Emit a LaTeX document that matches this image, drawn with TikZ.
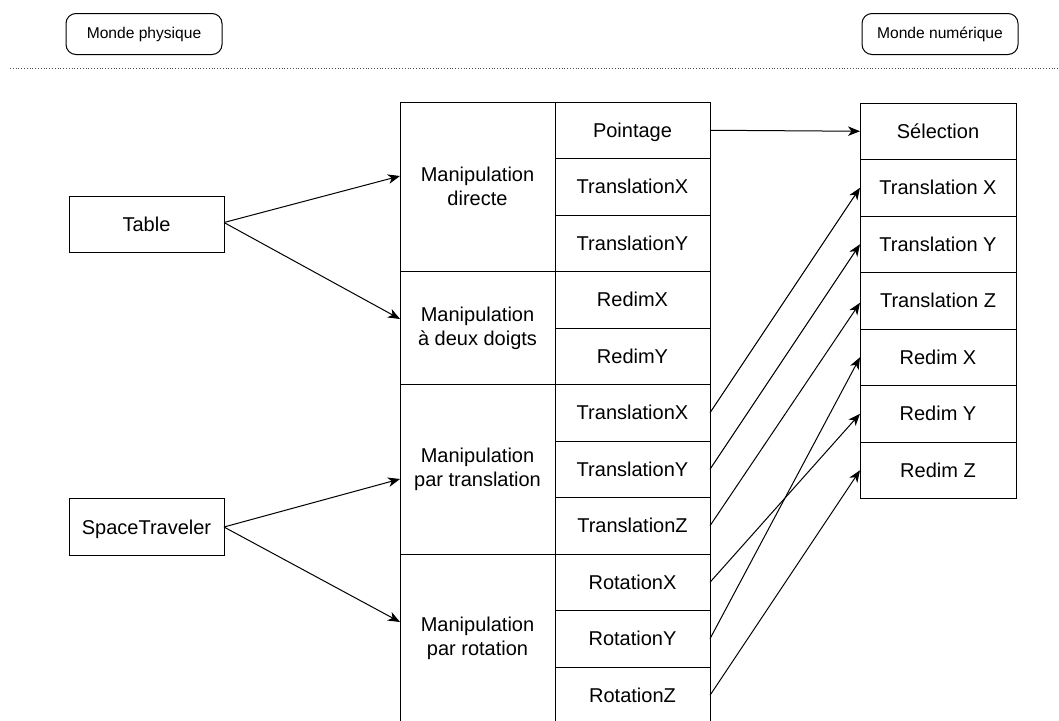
\documentclass[tikz,border=0pt]{standalone}
\usepackage{fontspec}
\setmainfont{Liberation Sans}
\usetikzlibrary{arrows.meta}
\begin{document}
\begin{tikzpicture}[x=1pt,y=-1pt,
  every node/.style={inner sep=0pt,outer sep=0pt},
  cell/.style={draw,line width=1pt,minimum width=155pt,minimum height=56.5pt,align=center,font=\fontsize{20}{24}\selectfont},
  one/.style={cell,text height=14.3pt,text depth=0pt},
  group/.style={cell,minimum height=169.5pt},
  world/.style={draw,line width=1pt,rounded corners=10pt,minimum width=156pt,minimum height=41pt,font=\fontsize{15.6}{18}\selectfont},
  conn/.style={line width=1pt,-{Stealth[length=12pt,width=9.5pt,inset=3.5pt]}}
]
\useasboundingbox (0,0) rectangle (1059,720);
% header
\node[world] (mp) at (144,34) {Monde physique};
\node[world] (mn) at (940,34) {Monde numérique};
\coordinate (dl) at (10,68);
\coordinate (dr) at (1059,68);
\draw[line width=0.8pt,dotted,black!70] (dl) -- (dr);
% sources
\node[one] (table) at (146.5,224.5) {Table};
\node[one] (st) at (146.5,527) {SpaceTraveler};
% groups
\node[group] (g1) at (477.5,186.75) {Manipulation\\directe};
\node[cell,minimum height=113pt] (g2) at (477.5,328) {Manipulation\\à deux doigts};
\node[group] (g3) at (477.5,469.25) {Manipulation\\par translation};
\node[group] (g4) at (477.5,638.75) {Manipulation\\par rotation};
% sub actions
\node[one] (a1) at (632.5,130.25) {Pointage};
\node[one] (a2) at (632.5,186.75) {TranslationX};
\node[one] (a3) at (632.5,243.25) {TranslationY};
\node[one] (a4) at (632.5,299.75) {RedimX};
\node[one] (a5) at (632.5,356.25) {RedimY};
\node[one] (a6) at (632.5,412.75) {TranslationX};
\node[one] (a7) at (632.5,469.25) {TranslationY};
\node[one] (a8) at (632.5,525.75) {TranslationZ};
\node[one] (a9) at (632.5,582.25) {RotationX};
\node[one] (a10) at (632.5,638.75) {RotationY};
\node[one] (a11) at (632.5,695.25) {RotationZ};
% numeric world
\node[one,minimum width=156pt] (s1) at (938,131.25) {Sélection};
\node[one,minimum width=156pt] (s2) at (938,187.75) {Translation X};
\node[one,minimum width=156pt] (s3) at (938,244.25) {Translation Y};
\node[one,minimum width=156pt] (s4) at (938,300.75) {Translation Z};
\node[one,minimum width=156pt] (s5) at (938,357.25) {Redim X};
\node[one,minimum width=156pt] (s6) at (938,413.75) {Redim Y};
\node[one,minimum width=156pt] (s7) at (938,470.25) {Redim Z};
% left connectors
\draw[conn] ([yshift=2pt]table.east) -- ([yshift=10.75pt]g1.west);
\draw[conn] ([yshift=2pt]table.east) -- ([yshift=9pt]g2.west);
\draw[conn] (st.east) -- ([yshift=-9.75pt]g3.west);
\draw[conn] (st.east) -- ([yshift=16.75pt]g4.west);
% right connectors
\draw[conn] (a1.east) -- (s1.west);
\draw[conn] (a6.east) -- (s2.west);
\draw[conn] (a7.east) -- (s3.west);
\draw[conn] (a8.east) -- ([yshift=-2pt]s4.west);
\draw[conn] (a9.east) -- (s6.west);
\draw[conn] (a10.east) -- (s5.west);
\draw[conn] (a11.east) -- (s7.west);
\end{tikzpicture}
\end{document}
